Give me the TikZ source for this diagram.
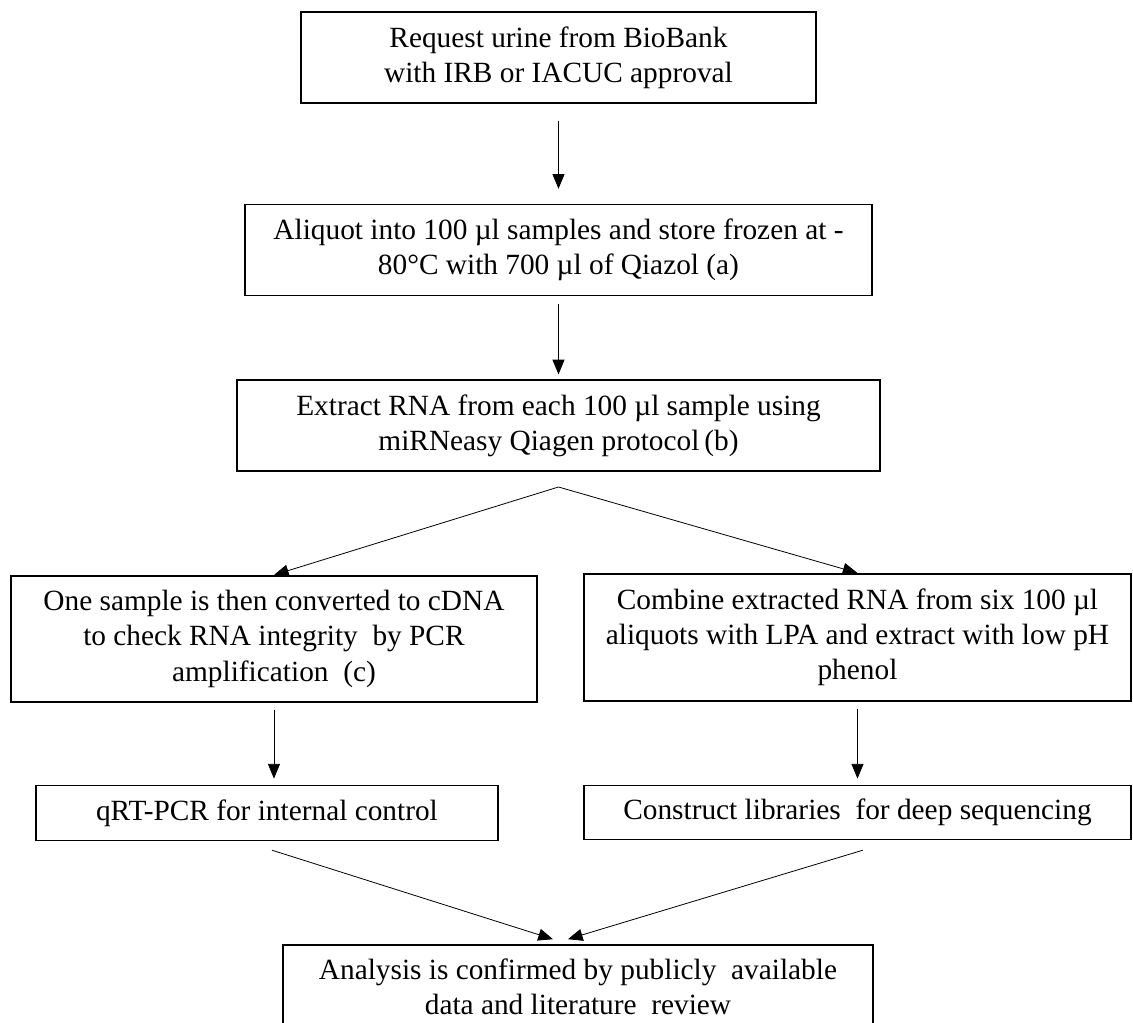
\documentclass[tikz,border=0pt]{standalone}
\usepackage{fontspec}
\setmainfont{Liberation Serif}
\usepackage{tikz}
\usetikzlibrary{positioning,arrows.meta,calc}
\tikzset{
  box/.style={rectangle,draw=black,line width=1.2pt,align=center,inner sep=2pt,
    font=\fontsize{22}{26.5}\selectfont},
  fl/.style={-{Triangle[length=11pt,width=9pt]},draw=black,line width=0.6pt},
}

\begin{document}
\begin{tikzpicture}
  \useasboundingbox (-418.875pt,43.125pt) rectangle (430.875pt,-724.125pt);
  \node[box,minimum width=386.25pt,minimum height=68.25pt] (req)
    {Request urine from BioBank\\with IRB or IACUC approval};
  \node[box,minimum width=470.25pt,minimum height=68.25pt,below=75pt of req] (ali)
    {Aliquot into 100 µl samples and store frozen at -\\80°C with 700 µl of Qiazol (a)};
  \node[box,minimum width=482.25pt,minimum height=68.25pt,below=62.25pt of ali] (ext)
    {Extract RNA from each 100 µl sample using\\miRNeasy Qiagen protocol\,(b)};
  \node[box,minimum width=394.5pt,minimum height=94.5pt,below=77.25pt of ext,xshift=-213.4pt] (one)
    {One sample is then converted to cDNA\\to check RNA integrity\ \ by PCR\\amplification\enspace(c)};
  \node[box,minimum width=410.25pt,minimum height=95.25pt,below=75.75pt of ext,xshift=224.25pt] (com)
    {Combine extracted RNA from six 100 µl\\aliquots with LPA and extract with low pH\\phenol};
  \node[box,minimum width=346.5pt,minimum height=41.25pt,below=61.5pt of one,xshift=-5.25pt] (qrt)
    {qRT-PCR for internal control};
  \node[box,minimum width=410.25pt,minimum height=40.5pt,below=62.25pt of com] (lib)
    {Construct libraries\enspace for deep sequencing};
  \node[box,minimum width=442.5pt,minimum height=63pt,anchor=north] (ana)
    at ($(ext.south |- qrt.south)+(14.6pt,-77.25pt)$)
    {Analysis is confirmed by publicly\enspace available\\data and literature\enspace review};
  \coordinate[below=11.25pt of ext.south] (sp);
  \draw[fl,shorten <=12.75pt,shorten >=11.25pt] (req) -- (ali);
  \draw[fl,shorten <=6pt,shorten >=3.75pt] (ali) -- (ext);
  \draw[fl] (sp) -- (one.north);
  \draw[fl] (sp) -- (com.north);
  \draw[fl,shorten <=5.25pt,shorten >=4.5pt] (one.south) -- (one.south |- qrt.north);
  \draw[fl,shorten <=5.25pt,shorten >=4.5pt] (com) -- (lib);
  \draw[fl] ($(qrt.south)+(3.75pt,-6.75pt)$) -- ($(ana.north)+(-18.75pt,3.75pt)$);
  \draw[fl] ($(lib.south)+(4pt,-7.5pt)$) -- ($(ana.north)+(-7.5pt,3.75pt)$);
\end{tikzpicture}
\end{document}
